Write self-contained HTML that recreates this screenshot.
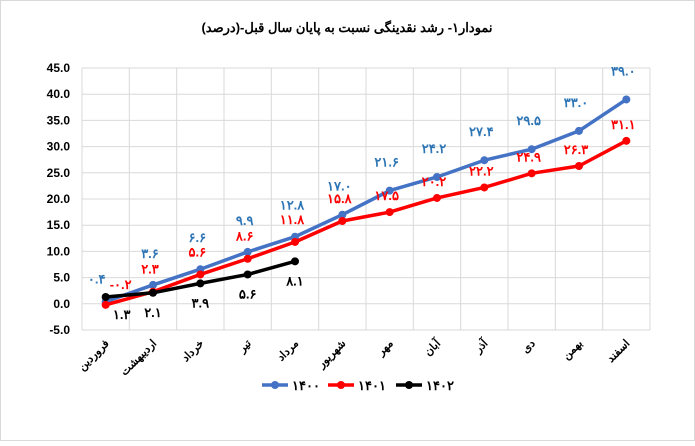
<!DOCTYPE html>
<html><head><meta charset="utf-8"><style>
body{margin:0;background:#fff;font-family:"Liberation Sans","Noto Sans CJK SC",sans-serif;}
</style></head><body>
<svg id="c" width="695" height="441" xmlns="http://www.w3.org/2000/svg">
<rect x="0.5" y="0.5" width="694" height="440" fill="#fff" stroke="#d9d9d9"/>
<text x="347" y="32" text-anchor="middle" font-size="13" font-weight="bold">نمودار۱- رشد نقدینگی نسبت به پایان سال قبل-(درصد)</text>
<g id="grid"></g><g id="axes"></g><g id="series"></g><g id="labels"></g>
<g id="legend"></g>
</svg>
<script>
const categories=["فروردین","اردیبهشت","خرداد","تیر","مرداد","شهریور","مهر","آبان","آذر","دی","بهمن","اسفند"];
const s1400=[0.4,3.6,6.6,9.9,12.8,17.0,21.6,24.2,27.4,29.5,33.0,39.0];
const s1401=[-0.2,2.3,5.6,8.6,11.8,15.8,17.5,20.2,22.2,24.9,26.3,31.1];
const s1402=[1.3,2.1,3.9,5.6,8.1];
const yTicks=[-5,0,5,10,15,20,25,30,35,40,45];
const seriesNames=["۱۴۰۰","۱۴۰۱","۱۴۰۲"];
const NS="http://www.w3.org/2000/svg";
const L=82,R=650,T=68,B=330,yMin=-5,yMax=45;
const bw=(R-L)/categories.length;
const x=i=>L+bw*(i+0.5);
const y=v=>B-(v-yMin)/(yMax-yMin)*(B-T);
const fa=s=>String(s).replace(/\d/g,d=>"۰۱۲۳۴۵۶۷۸۹"[d]);
function el(t,a,p,txt){const e=document.createElementNS(NS,t);for(const k in a)e.setAttribute(k,a[k]);if(txt!==undefined)e.textContent=txt;document.getElementById(p).appendChild(e);return e;}
yTicks.forEach(v=>{
 const g=el("line",{x1:L,x2:R,y1:y(v),y2:y(v),stroke:"#d9d9d9"},"grid");
 
 
 const t=el("text",{x:L-12,y:y(v)+4,"text-anchor":"end","font-size":"12","font-weight":"bold"},"axes",v.toFixed(1));
 
 
});
for(let i=0;i<=categories.length;i++){
 const g=el("line",{x1:L+bw*i,x2:L+bw*i,y1:T,y2:B,stroke:"#d9d9d9"},"grid");
 
 
}
categories.forEach((c,i)=>{
 const t=el("text",{x:x(i)+4,y:B+14,"text-anchor":"end","font-size":"11","font-weight":"bold",transform:`rotate(-45 ${x(i)+4} ${B+14})`},"axes",c);
 
 
});
function line(data,color,name){
 const p=el("polyline",{points:data.map((v,i)=>x(i)+","+y(v)).join(" "),fill:"none",stroke:color,"stroke-width":"3.5","stroke-linejoin":"round"},"series");
 
 
 data.forEach((v,i)=>{
  const c=el("circle",{cx:x(i),cy:y(v),r:4,fill:color},"series");
  
  
 });
}
line(s1400,"#4472c4","series-1400");
line(s1401,"#ff0000","series-1401");
line(s1402,"#000000","series-1402");
function fmt(v){return fa(v.toFixed(1));}
s1400.forEach((v,i)=>{
 const t=el("text",{x:x(i)-(i==0?9:3),y:y(v)-(i<5?27:(i==0?18:24)),"text-anchor":"middle","font-size":"13","font-weight":"bold",fill:"#2e75b6"},"labels",fmt(v));
 if(i==0)t.setAttribute('y',y(v)-18);
 
 
});
s1401.forEach((v,i)=>{
 const t=el("text",{x:x(i)+(i==0?15:-3),y:y(v)-(i<=5?18:12),"text-anchor":"middle","font-size":"13","font-weight":"bold",fill:"#ff0000"},"labels",fmt(v));
 if(i==0)t.setAttribute('y',y(v)-16);
 
 
});
s1402.forEach((v,i)=>{
 const t=el("text",{x:x(i)+(i==0?16:0),y:y(v)+(i==0?22:24),"text-anchor":"middle","font-size":"13","font-weight":"bold",fill:"#000"},"labels",fmt(v));
 
 
});
const lc=["#4472c4","#ff0000","#000000"];
[[262,"۱۴۰۰"],[328,"۱۴۰۱"],[396,"۱۴۰۲"]].forEach((d,k)=>{
 const g=el("line",{x1:d[0],x2:d[0]+26,y1:385,y2:385,stroke:lc[k],"stroke-width":"3.5"},"legend");
 
 
 const c=el("circle",{cx:d[0]+13,cy:385,r:4,fill:lc[k]},"legend");
 
 
 const t=el("text",{x:d[0]+30,y:390,"font-size":"13","font-weight":"bold"},"legend",seriesNames[k]);
 
 
});
</script>
</body></html>
